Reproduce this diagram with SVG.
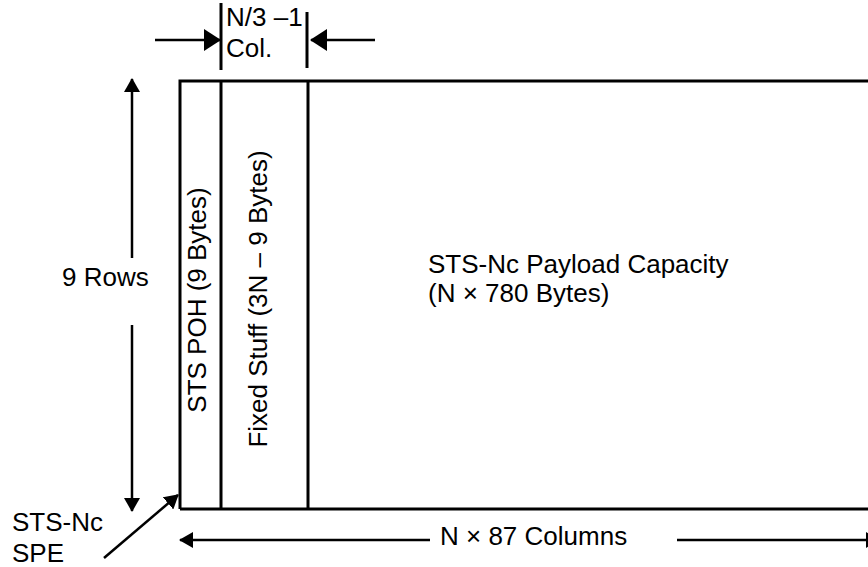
<svg xmlns="http://www.w3.org/2000/svg" width="868" height="567" viewBox="0 0 868 567">
<style>
text{font-family:"Liberation Sans",Arial,sans-serif;font-size:26px;fill:#000}
.box{fill:none;stroke:#000;stroke-width:3}
.ln{fill:none;stroke:#000;stroke-width:2.5}
.arr{fill:none;stroke:#000;stroke-width:2.5;marker-end:url(#ah)}
</style>
<defs>
<marker id="ah" viewBox="0 0 14 16" refX="13" refY="8" markerWidth="14" markerHeight="16" markerUnits="userSpaceOnUse" orient="auto">
<path d="M0,0 L14,8 L0,16 Z" fill="#000"/>
</marker>
<marker id="ahBig" viewBox="0 0 17 22" refX="16" refY="11" markerWidth="17" markerHeight="22" markerUnits="userSpaceOnUse" orient="auto">
<path d="M0,0 L17,11 L0,22 Z" fill="#000"/>
</marker>
</defs>
<g id="spe-frame">
<path class="box" d="M180,509 L180,81 L880,81 M180,509 L880,509"/>
</g>
<g id="poh-column">
<line class="box" x1="221" y1="81" x2="221" y2="509"/>
<text transform="translate(206,300) rotate(-90)" text-anchor="middle">STS POH (9 Bytes)</text>
</g>
<g id="fixed-stuff-column">
<line class="box" x1="308" y1="81" x2="308" y2="509"/>
<text transform="translate(267,299) rotate(-90)" text-anchor="middle">Fixed Stuff (3N – 9 Bytes)</text>
</g>
<g id="payload">
<text x="428" y="273">STS-Nc Payload Capacity</text>
<text x="428" y="302">(N × 780 Bytes)</text>
</g>
<g id="col-label">
<line class="ln" x1="221" y1="3" x2="221" y2="70" style="stroke-width:3"/>
<line class="ln" x1="307" y1="12" x2="307" y2="68" style="stroke-width:3"/>
<text x="226" y="26">N/3 –1</text>
<text x="226" y="57">Col.</text>
</g>
<g id="rows-label">
<text x="62" y="286">9 Rows</text>
</g>
<g id="spe-label">
<text x="12" y="531">STS-Nc</text>
<text x="12" y="562">SPE</text>
</g>
<g id="columns-label">
<text x="440" y="545">N × 87 Columns</text>
</g>
<g id="connectors">
<line x1="155" y1="40" x2="220" y2="40" style="stroke:#000;stroke-width:2.5;marker-end:url(#ahBig)"/>
<line x1="375" y1="40" x2="311" y2="40" style="stroke:#000;stroke-width:2.5;marker-end:url(#ahBig)"/>
<line class="arr" x1="132" y1="258" x2="132" y2="79"/>
<line class="arr" x1="132" y1="325" x2="132" y2="511"/>
<line class="arr" x1="430" y1="540" x2="180" y2="540"/>
<line class="arr" x1="677" y1="540" x2="879" y2="540"/>
<line class="arr" x1="104" y1="558" x2="178" y2="495"/>
</g>
</svg>
